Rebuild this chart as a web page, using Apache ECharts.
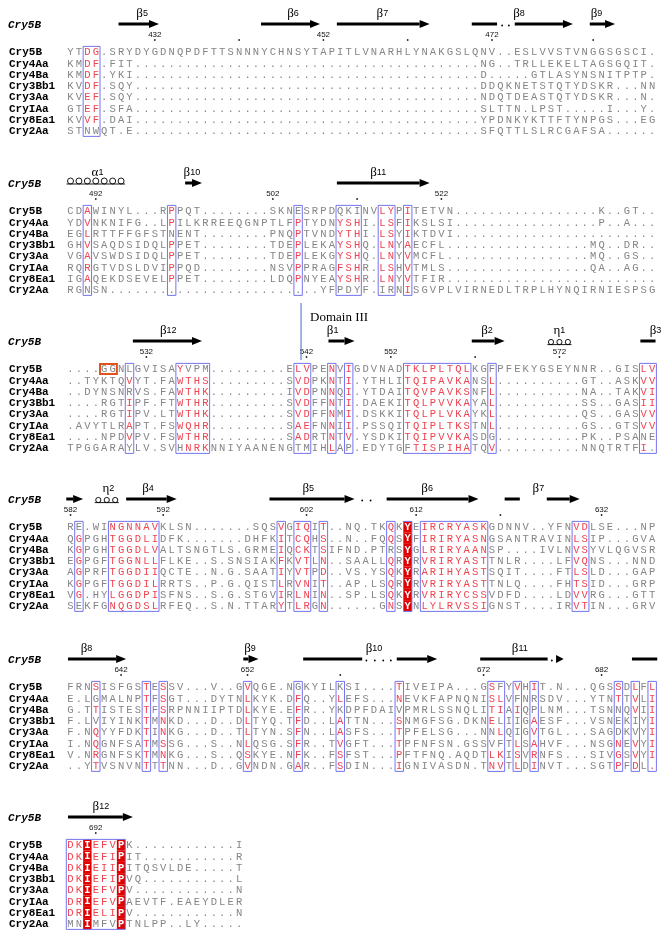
<!DOCTYPE html>
<html>
<head>
<meta charset="utf-8">
<script src="https://cdn.jsdelivr.net/npm/echarts@6/dist/echarts.min.js"></script>
<style>
  html, body { margin: 0; padding: 0; background: #fff; }
  #chart { width: 670px; height: 938px; }
</style>
</head>
<body>
<div id="chart"></div>
<script>
var names = ['Cry5B', 'Cry4Aa', 'Cry4Ba', 'Cry3Bb1', 'Cry3Aa', 'CryIAa', 'Cry8Ea1', 'Cry2Aa'];

var block1Seqs = [
  'YTDG.SRYDYGDNQPDFTTSNNNYCHNSYTAPITLVNARHLYNAKGSLQNV..ESLVVSTVNGGSGSCI.',
  'KMDF.FIT.........................................NG..TRLLEKELTAGSGQIT.',
  'KMDF.YKI.........................................D.....GTLASYNSNITPTP.',
  'KVDF.SQY.........................................DDQKNETSTQTYDSKR...NN',
  'KVEF.SQY.........................................NDQTDEASTQTYDSKR...N.',
  'GTEF.SFA.........................................SLTTN.LPST.....I...Y.',
  'KVVF.DAI.........................................YPDNKYKTTFTYNPGS...EG',
  'STNWQT.E.........................................SFQTTLSLRCGAFSA......'
];
var block2Seqs = [
  'CDAWINYL...RPPQT........SKNESRPDQKINVLYPITETVN.................K..GT..',
  'YDVNKNIFG..LPILKRREEQGNPTLFPTYDNYSHI.LSFIKSLSI.................P..A...',
  'EGLRTTFFGFSTNENT........PNQPTVNDYTHI.LSYIKTDVI........................',
  'GHVSAQDSIDQLPPET........TDEPLEKAYSHQ.LNYAECFL.................MQ..DR..',
  'VGAVSWDSIDQLPPET........TDEPLEKGYSHQ.LNYVMCFL.................MQ..GS..',
  'RQRGTVDSLDVIPPQD........NSVPPRAGFSHR.LSHVTMLS.................QA..AG..',
  'IGAQEKDSEVELPPET........LDQPNYEAYSHR.LNYVTFIR.........................',
  'RGNSN.........................YFPDYF.IRNISGVPLVIRNEDLTRPLHYNQIRNIESPSG'
];
var block3Seqs = [
  '....GGNLGVISAYVPM.........ELVPENVIGDVNADTKLPLTQLKGFPFEKYGSEYNNR..GISLV',
  '..TYKTQVYT.FAWTHS.........SVDPKNTI.YTHLITQIPAVKANSL..........GT..ASKVV',
  '..DYNSNRVS.FAWTHK.........IVDPNNQI.YTDAITQVPAVKSNFL..........NA..TAKVI',
  '....RGTIPF.FTWTHR.........SVDFFNTI.DAEKITQLPVVKAYAL..........SS..GASII',
  '....RGTIPV.LTWTHK.........SVDFFNMI.DSKKITQLPLVKAYKL..........QS..GASVV',
  '.AVYTLRAPT.FSWQHR.........SAEFNNII.PSSQITQIPLTKSTNL..........GS..GTSVV',
  '....NPDVPV.FSWTHR.........SADRTNTV.YSDKITQIPVVKASDG..........PK..PSANE',
  'TPGGARAYLV.SVHNRKNNIYAANENGTMIHLAP.EDYTGFTISPIHATQV..........NNQTRTFI.'
];
var block4Seqs = [
  'RE.WINGNNAVKLSN.......SQSVGIQIT..NQ.TKQKYEIRCRYASKGDNNV..YFNVDLSE...NP',
  'QGPGHTGGDLIDFK.......DHFKITCQHS..N..FQQSYFIRIRYASNGSANTRAVINLSIP...GVA',
  'KGPGHTGGDLVALTSNGTLS.GRMEIQCKTSIFND.PTRSYGLRIRYAANSP....IVLNVSYVLQGVSR',
  'EGPGFTGGNLLFLKE..S.SNSIAKFKVTLN..SAALLQRYRVRIRYASTTNLR....LFVQNS...NND',
  'AGPRFTGGDIIQCTE..N.G.SAATIYVTPD..VS.YSQKYRARIHYASTSQIT....FTLSLD...GAP',
  'KGPGFTGGDILRRTS..P.G.QISTLRVNIT..AP.LSQRYRVRIRYASTTNLQ....FHTSID...GRP',
  'VG.HYLGGDPISFNS..S.G.STGVIRLNIN..SP.LSQKYRVRIRYCSSVDFD....LDVVRG...GTT',
  'SEKFGNQGDSLRFEQ..S.N.TTARYTLRGN......GNSYNLYLRVSSIGNST....IRVTIN...GRV'
];
var block5Seqs = [
  'FRNSISFGSTESSV...V..GVQGE.NGKYILKSI....TIVEIPA...GSFYVHIT.N...QGSSDLFL',
  'E.LGMALNPTFSGT...DYTNLKYK.DFQ..YLEFS...NEVKFAPNQNISLVFNRSDV...YTNTTVLI',
  'G.TTISTESTFSRPNNIIPTDLKYE.EFR..YKDPFDAIVPMRLSSNQLITIAIQPLNM...TSNNQVII',
  'F.LVIYINKTMNKD...D..DLTYQ.TFD..LATTN...SNMGFSG.DKNELIIGAESF...VSNEKIYI',
  'F.NQYYFDKTINKG...D..TLTYN.SFN..LASFS...TPFELSG...NNLQIGVTGL...SAGDKVYI',
  'I.NQGNFSATMSSG...S..NLQSG.SFR..TVGFT...TPFNFSN.GSSVFTLSAHVF...NSGNEVYI',
  'V.NRGNFSKTMNKG...S..QSKYE.NFK..FSFST...PFTFNQ.AQDTLKISVRNFS...SIVGSVYI',
  '..YTVSNVNTTTNN...D..GVNDN.GAR..FSDIN...IGNIVASDN.TNVTLDINVT...SGTPFDL.'
];
var block6Seqs = [
  'DKIEFVPK............I',
  'DKIEFIPIT...........R',
  'DKIEIIPITQSVLDE.....T',
  'DKIEFIPVQ...........L',
  'DKIEFVPV............N',
  'DRIEFVPAEVTF.EAEYDLER',
  'DRIELIPV............N',
  'MNIMFVPTNLPP..LY.....'
];

// conserved columns framed in blue: [from, to]
var block1Boxes = [[2, 3]];
var block2Boxes = [[2, 2], [12, 12], [27, 27], [32, 34], [37, 38], [40, 40]];
var block3Boxes = [[7, 7], [13, 16], [27, 28], [31, 31], [33, 33], [40, 47], [50, 50], [68, 69]];
var block4Boxes = [[1, 1], [5, 10], [25, 25], [27, 28], [30, 30], [38, 38], [40, 40], [42, 49], [60, 61]];
var block5Boxes = [[3, 3], [9, 9], [11, 11], [21, 21], [27, 27], [32, 32], [39, 39], [50, 51], [53, 53], [55, 55], [65, 65], [67, 67], [69, 69]];
var block6Boxes = [[0, 6]];

// residue colouring: [from, to, one flag per sequence]  r = red letter, F = white on red, - = plain
var block1Red = [[2, 3, 'rrrrrrr-']];
var block2Red = [[2, 2, 'rrrrrrr-'], [12, 12, 'rr-rrrr-'], [27, 27, '-rrrrrr-'], [32, 34, '-rrrrrr-'], [37, 38, 'rrrrrrr-'], [40, 40, 'rrrrrrrr']];
var block3Red = [[7, 7, '-r-rrrr-'], [13, 13, 'rrrrrrr-'], [14, 16, '-rrrrrrr'], [27, 28, 'rrrrrrr-'], [31, 31, 'rrrrrrrr'], [33, 33, 'rrrrrrr-'],
  [40, 40, 'rrrrrrr-'], [41, 43, 'rrrrrrrr'], [44, 44, 'rrrrrrr-'], [45, 47, 'rrrrrrrr'], [50, 50, '-rrrrr-r'], [68, 68, 'rrrrrr-r'], [69, 69, 'rrrrrr--']];
var block4Red = [[1, 1, '-rrrrrr-'], [5, 10, 'rrrrrrrr'], [25, 25, 'rrrrrrrr'], [27, 28, 'rrrrrrrr'], [30, 30, 'rrrrrrrr'], [38, 38, 'rr-rrrrr'],
  [40, 40, 'FFFFFFFF'], [42, 49, 'rrrrrrrr'], [60, 61, 'rrrrrrrr']];
var block5Red = [[3, 3, 'r-r-rrrr'], [9, 9, 'rrrrrrrr'], [11, 11, 'rrrrrrrr'], [21, 21, 'rrrrrrrr'], [27, 27, '-rrrrrrr'], [32, 32, '-r-rrrrr'],
  [39, 39, 'rr-rrrrr'], [50, 50, 'rrrr--rr'], [51, 51, '-rr-r-rr'], [53, 53, 'r-r--rrr'], [55, 55, 'r--rrrrr'], [65, 65, 'rr---rrr'],
  [67, 67, 'rrr--rrr'], [69, 69, 'rrrrrrrr']];
var block6Red = [[0, 1, 'rrrrrrr-'], [2, 2, 'FFFFFFFF'], [3, 5, 'rrrrrrr-'], [6, 6, 'FFFFFFFF']];

// Cry5B numbering: [column, label]  ('' = dot only)
var block1Ticks = [[10, '432'], [20, ''], [30, '452'], [40, ''], [50, '472'], [62, '']];
var block2Ticks = [[3, '492'], [24, '502'], [34, ''], [44, '522']];
var block3Ticks = [[9, '532'], [28, '542'], [38, '552'], [48, ''], [58, '572']];
var block4Ticks = [[0, '582'], [11, '592'], [28, '602'], [41, '612'], [51, ''], [63, '632']];
var block5Ticks = [[6, '642'], [21, '652'], [32, ''], [49, '672'], [63, '682']];
var block6Ticks = [[3, '692']];

// secondary structure of Cry5B: strands [from, to, arrowhead], labels, gap dots, coils
var block1Strands = [[5.7, 10.5, 1], [22.6, 29.6, 1], [31.6, 42.6, 1], [47.6, 50.6, 0], [52.7, 59.6, 1], [61.6, 64.6, 1]];
var block2Strands = [[13.6, 15.6, 1], [31.6, 42.6, 1]];
var block3Strands = [[7.4, 15.6, 1], [30.6, 33.7, 1], [47.6, 51.5, 1], [67.6, 69.4, 0]];
var block4Strands = [[-0.5, 1.5, 1], [6.6, 12.6, 1], [23.6, 33.7, 1], [37.5, 48.4, 1], [51.5, 53.3, 0], [56.5, 60.4, 1]];
var block5Strands = [[-0.3, 6.6, 1], [20.5, 22.3, 1], [27.6, 34.6, 0], [38.7, 43.5, 1], [48.6, 56.6, 0], [57.6, 58.5, 1], [66.6, 69.6, 0]];
var block6Strands = [[-0.3, 7.4, 1]];

var block1Labels = [[8.5, 'β5'], [26.4, 'β6'], [37, 'β7'], [53.2, 'β8'], [62.4, 'β9']];
var block2Labels = [[3.2, 'α1'], [14.4, 'β10'], [36.5, 'β11']];
var block3Labels = [[11.6, 'β12'], [31.1, 'β1'], [49.4, 'β2'], [58, 'η1'], [69.4, 'β3']];
var block4Labels = [[4.5, 'η2'], [9.2, 'β4'], [28.2, 'β5'], [42.3, 'β6'], [55.5, 'β7']];
var block5Labels = [[1.9, 'β8'], [21.3, 'β9'], [36, 'β10'], [53.3, 'β11']];
var block6Labels = [[3.6, 'β12']];

var block1Gaps = [51.2, 52.0];
var block4Gaps = [34.6, 35.6];
var block5Gaps = [35.1, 36.1, 37.1, 38.0, 57.1];

var block2Coils = [[0, 6, 'a']];
var block3Coils = [[57, 59, 'e']];
var block4Coils = [[3.3, 5.3, 'e']];

var block3Domain = [[27.35, 'Domain III']];
var block3Highlight = [[0, 4, 5]];

var blockSeqs = [block1Seqs, block2Seqs, block3Seqs, block4Seqs, block5Seqs, block6Seqs];
var blockBoxes = [block1Boxes, block2Boxes, block3Boxes, block4Boxes, block5Boxes, block6Boxes];
var blockRed = [block1Red, block2Red, block3Red, block4Red, block5Red, block6Red];
var blockTicks = [block1Ticks, block2Ticks, block3Ticks, block4Ticks, block5Ticks, block6Ticks];
var blockStrands = [block1Strands, block2Strands, block3Strands, block4Strands, block5Strands, block6Strands];
var blockLabels = [block1Labels, block2Labels, block3Labels, block4Labels, block5Labels, block6Labels];
var blockGaps = [block1Gaps, [], [], block4Gaps, block5Gaps, []];
var blockCoils = [[], block2Coils, block3Coils, block4Coils, [], []];

// layout
var ROW_Y = [52, 211, 369, 527, 687, 845];
var ROW_H = 11.25, COL_W = 8.43, SEQ_X = 70.5, NAME_X = 9;
var GREY = '#858585', RED = '#ef4450', BLUE = '#7373f0', FILL = '#e00000';
var SEQ_FONT = '10.5px "Liberation Mono", monospace';
var NAME_FONT = 'bold 11px "Liberation Mono", monospace';

blockSeqs.forEach(function (seqs, b) {
  seqs.forEach(function (s, r) {
    var want = b === 5 ? 21 : 70;
    if (s.length !== want) throw new Error('block ' + (b + 1) + ' row ' + r + ' length ' + s.length);
  });
});

function flagAt(b, c, r) {
  var list = blockRed[b];
  for (var i = 0; i < list.length; i++) {
    if (c >= list[i][0] && c <= list[i][1]) return list[i][2].charAt(r);
  }
  return '-';
}

function onGrid(b, extra) {
  extra.type = 'custom';
  extra.xAxisIndex = b;
  extra.yAxisIndex = b;
  extra.silent = true;
  return extra;
}

var grids = [], xAxes = [], yAxes = [], series = [];

blockSeqs.forEach(function (seqs, b) {
  grids.push({ left: SEQ_X - COL_W / 2, top: ROW_Y[b] - ROW_H / 2, width: COL_W * 70, height: ROW_H * 8 });
  xAxes.push({ type: 'value', gridIndex: b, min: -0.5, max: 69.5, show: false });
  yAxes.push({ type: 'value', gridIndex: b, min: -0.5, max: 7.5, inverse: true, show: false });

  // residues
  var cells = [], meta = [];
  seqs.forEach(function (s, r) {
    for (var c = 0; c < s.length; c++) {
      cells.push([c, r]);
      meta.push({ ch: s.charAt(c), flag: flagAt(b, c, r) });
    }
  });
  series.push(onGrid(b, {
    z: 3, data: cells,
    renderItem: function (params, api) {
      var m = meta[params.dataIndex];
      var p = api.coord([api.value(0), api.value(1)]);
      var sz = api.size([1, 1]);
      var kids = [];
      if (m.flag === 'F') {
        kids.push({ type: 'rect', shape: { x: p[0] - sz[0] / 2, y: p[1] - sz[1] / 2, width: sz[0], height: sz[1] }, style: { fill: FILL } });
      }
      kids.push({ type: 'text', style: {
        text: m.ch, x: p[0], y: p[1] + 0.5, align: 'center', verticalAlign: 'middle',
        font: m.flag === 'F' ? 'bold 10.5px "Liberation Mono", monospace' : SEQ_FONT,
        fill: m.flag === 'F' ? '#fff' : (m.flag === 'r' ? RED : GREY)
      } });
      return { type: 'group', children: kids };
    }
  }));

  // blue frames
  series.push(onGrid(b, {
    z: 4, data: blockBoxes[b],
    renderItem: function (params, api) {
      var a = api.coord([api.value(0) - 0.5, -0.5]);
      var e = api.coord([api.value(1) + 0.5, 7.5]);
      return { type: 'rect', shape: { x: a[0], y: a[1], width: e[0] - a[0], height: e[1] - a[1] },
        style: { fill: 'none', stroke: BLUE, lineWidth: 1 } };
    }
  }));

  // sequence names + italic reference name
  var nameRows = names.map(function (n, r) { return [0, r]; });
  series.push(onGrid(b, {
    z: 3, data: nameRows,
    renderItem: function (params, api) {
      var p = api.coord([0, api.value(1)]);
      return { type: 'text', style: { text: names[params.dataIndex], x: NAME_X, y: p[1] + 0.5,
        verticalAlign: 'middle', font: NAME_FONT, fill: '#000' } };
    }
  }));
  series.push(onGrid(b, {
    z: 3, data: [[0, 0]],
    renderItem: function (params, api) {
      var p = api.coord([0, 0]);
      return { type: 'text', style: { text: names[0], x: NAME_X - 1, y: p[1] - 27,
        verticalAlign: 'middle', font: 'italic bold 11px "Liberation Mono", monospace', fill: '#000' } };
    }
  }));

  // numbering
  var ticks = blockTicks[b];
  series.push(onGrid(b, {
    z: 3, data: ticks.map(function (t) { return [t[0], 0]; }),
    renderItem: function (params, api) {
      var p = api.coord([api.value(0), 0]);
      var kids = [{ type: 'circle', shape: { cx: p[0], cy: p[1] - 12, r: 0.9 }, style: { fill: '#222' } }];
      var lab = ticks[params.dataIndex][1];
      if (lab) kids.push({ type: 'text', style: { text: lab, x: p[0], y: p[1] - 17.5, align: 'center',
        verticalAlign: 'middle', font: '8px "Liberation Sans", Arial, sans-serif', fill: '#111' } });
      return { type: 'group', children: kids };
    }
  }));

  // strands
  series.push(onGrid(b, {
    z: 5, data: blockStrands[b],
    renderItem: function (params, api) {
      var a = api.coord([api.value(0), 0]);
      var e = api.coord([api.value(1), 0]);
      var y = a[1] - 28, x1 = a[0], x2 = e[0];
      var head = api.value(2) === 1;
      var hl = head ? Math.min(10, x2 - x1) : 0;
      var kids = [];
      if (x2 - hl > x1) kids.push({ type: 'rect', shape: { x: x1, y: y - 1.5, width: x2 - hl - x1, height: 3 }, style: { fill: '#000' } });
      if (head) kids.push({ type: 'polygon', shape: { points: [[x2 - hl, y - 4], [x2, y], [x2 - hl, y + 4]] }, style: { fill: '#000' } });
      return { type: 'group', children: kids };
    }
  }));

  // gap dots between strand pieces
  series.push(onGrid(b, {
    z: 5, data: blockGaps[b].map(function (g) { return [g, 0]; }),
    renderItem: function (params, api) {
      var p = api.coord([api.value(0), 0]);
      return { type: 'circle', shape: { cx: p[0], cy: p[1] - 26.5, r: 0.9 }, style: { fill: '#000' } };
    }
  }));

  // helices
  series.push(onGrid(b, {
    z: 5, data: blockCoils[b].map(function (c) { return [c[0], c[1]]; }),
    renderItem: function (params, api) {
      var from = api.value(0), to = api.value(1);
      var kind = blockCoils[b][params.dataIndex][2];
      var rad = kind === 'a' ? 3 : 2.6;
      var p0 = api.coord([from, 0]);
      var yc = p0[1] - (kind === 'a' ? 30 : 27);
      var kids = [];
      var last = p0[0];
      for (var c = from; c <= to + 0.01; c += 1) {
        var p = api.coord([c, 0]);
        kids.push({ type: 'circle', shape: { cx: p[0], cy: yc, r: rad }, style: { fill: 'none', stroke: '#000', lineWidth: 0.9 } });
        last = p[0];
      }
      kids.push({ type: 'line', shape: { x1: p0[0] - rad - 1, y1: yc + rad, x2: last + rad + 1, y2: yc + rad },
        style: { stroke: '#000', lineWidth: 0.9 } });
      return { type: 'group', children: kids };
    }
  }));

  // structure labels
  var labels = blockLabels[b];
  series.push(onGrid(b, {
    z: 5, data: labels.map(function (l) { return [l[0], 0]; }),
    renderItem: function (params, api) {
      var p = api.coord([api.value(0), 0]);
      var t = labels[params.dataIndex][1];
      return { type: 'text', style: {
        text: '{g|' + t.charAt(0) + '}{n|' + t.slice(1) + '}', x: p[0], y: p[1] - 38,
        align: 'center', verticalAlign: 'middle', fill: '#000',
        rich: { g: { fontFamily: 'Liberation Serif', fontSize: 13, fill: '#000' },
                n: { fontFamily: 'Liberation Sans', fontSize: 9, fill: '#000' } } } };
    }
  }));
});

// domain boundary and the highlighted GG pair (third block)
series.push(onGrid(2, {
  z: 6, data: block3Domain.map(function (d) { return [d[0], 0]; }),
  renderItem: function (params, api) {
    var p = api.coord([api.value(0), 0]);
    return { type: 'group', children: [
      { type: 'line', shape: { x1: p[0], y1: p[1] - 66, x2: p[0], y2: p[1] - 9 }, style: { stroke: '#5b86d6', lineWidth: 1.2 } },
      { type: 'text', style: { text: block3Domain[params.dataIndex][1], x: p[0] + 9, y: p[1] - 51,
        verticalAlign: 'middle', font: '13px "Liberation Serif", serif', fill: '#000' } }
    ] };
  }
}));
series.push(onGrid(2, {
  z: 6, data: block3Highlight,
  renderItem: function (params, api) {
    var a = api.coord([api.value(1) - 0.5, api.value(0) - 0.45]);
    var e = api.coord([api.value(2) + 0.5, api.value(0) + 0.45]);
    return { type: 'rect', shape: { x: a[0], y: a[1], width: e[0] - a[0], height: e[1] - a[1] },
      style: { fill: 'none', stroke: '#e4531c', lineWidth: 2 } };
  }
}));

var chart = echarts.init(document.getElementById('chart'));
chart.setOption({
  animation: false,
  backgroundColor: '#fff',
  grid: grids,
  xAxis: xAxes,
  yAxis: yAxes,
  series: series
});
</script>
</body>
</html>
